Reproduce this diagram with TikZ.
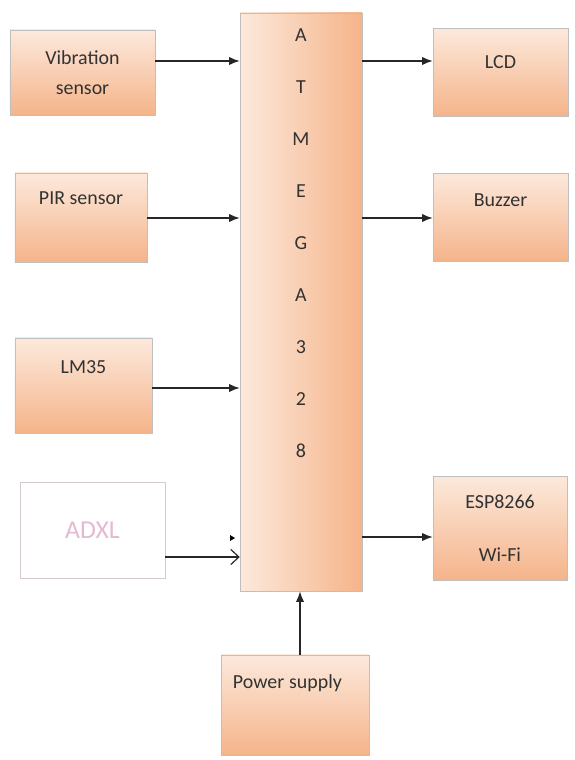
\documentclass[tikz,border=0pt]{standalone}
\usepackage{fontspec}
\setmainfont{Carlito}
\usetikzlibrary{arrows.meta}
\usetikzlibrary{shadows}
\definecolor{peachlt}{RGB}{252,233,220}
\definecolor{peachdk}{RGB}{245,180,138}
\definecolor{txtgray}{RGB}{50,50,50}
\definecolor{adxlpink}{RGB}{228,186,208}
\definecolor{adxlline}{RGB}{214,202,210}

\begin{document}
\begin{tikzpicture}[x=0.03cm,y=-0.03cm]
\tikzstyle{bloc}=[draw=black!25,top color=peachlt,bottom color=peachdk,
	drop shadow={shadow xshift=1pt,shadow yshift=-1.2pt,fill=black!35},
	text=txtgray,font=\fontsize{17}{25.6}\selectfont,inner sep=0pt]
\useasboundingbox (0,0) rectangle (574,760);
	\node[bloc,minimum width=4.35cm,minimum height=2.55cm,align=center] (vib) at (82.5,72.5) {Vibration\\sensor};
	\node[bloc,minimum width=3.96cm,text height=27pt,text depth=49pt] (pir) at (81,217.5) {PIR sensor};
	\node[bloc,minimum width=4.11cm,text height=30.3pt,text depth=50.8pt] (lm) at (83.5,385.5) {LM35};
	\node[draw=adxlline,fill=white,text=adxlpink,font=\fontsize{22}{26}\selectfont,
		minimum width=4.35cm,minimum height=2.88cm] (adxl) at (92.5,530) {ADXL};
\par
	\node[bloc,left color=peachlt,right color=peachdk,minimum width=3.66cm,align=center,
		text height=379.4pt,text depth=114pt,font=\fontsize{17}{44.4}\selectfont] (mcu) at (301,302) {A\\T\\M\\E\\G\\A\\3\\2\\8};
\par
	\node[bloc,minimum width=4.05cm,text height=34.5pt,text depth=40.6pt] (lcd) at (500.5,72) {LCD};
	\node[bloc,minimum width=4.05cm,text height=28.5pt,text depth=46.6pt] (buz) at (500.5,217) {Buzzer};
	\node[bloc,minimum width=4.02cm,minimum height=3.12cm,align=center,
		font=\fontsize{17}{45}\selectfont] (esp) at (500,528) {ESP8266\\Wi-Fi};
	\node[bloc,inner xsep=10.2pt,text width=105.9pt,align=left,text height=28.5pt,text depth=56.9pt] (pwr) at (295,705) {Power\hspace{-1.5pt} supply};
\par
\tikzstyle{fleche}=[-{Latex[length=9pt,width=7pt]},line width=1.1pt,black!85]
	\draw[fleche] (vib.east |- 0,61) -- (mcu.west |- 0,61);
	\draw[fleche] (pir.east |- 0,218) -- (mcu.west |- 0,218);
	\draw[fleche] (lm.east |- 0,388) -- (mcu.west |- 0,388);
	\draw[line width=1pt,black!85,-{Straight Barb[length=7pt,width=13pt]}] (adxl.east |- 0,557) -- (mcu.west |- 0,557);
	\fill[black] (230,535) -- (235,538) -- (230,541) -- cycle;
\par
	\draw[fleche] (mcu.east |- 0,61) -- (lcd.west |- 0,61);
	\draw[fleche] (mcu.east |- 0,218) -- (buz.west |- 0,218);
	\draw[fleche] (mcu.east |- 0,537) -- (esp.west |- 0,537);
	\draw[fleche] (pwr.north -| 300,0) -- (mcu.south -| 300,0);
\end{tikzpicture}
\end{document}
